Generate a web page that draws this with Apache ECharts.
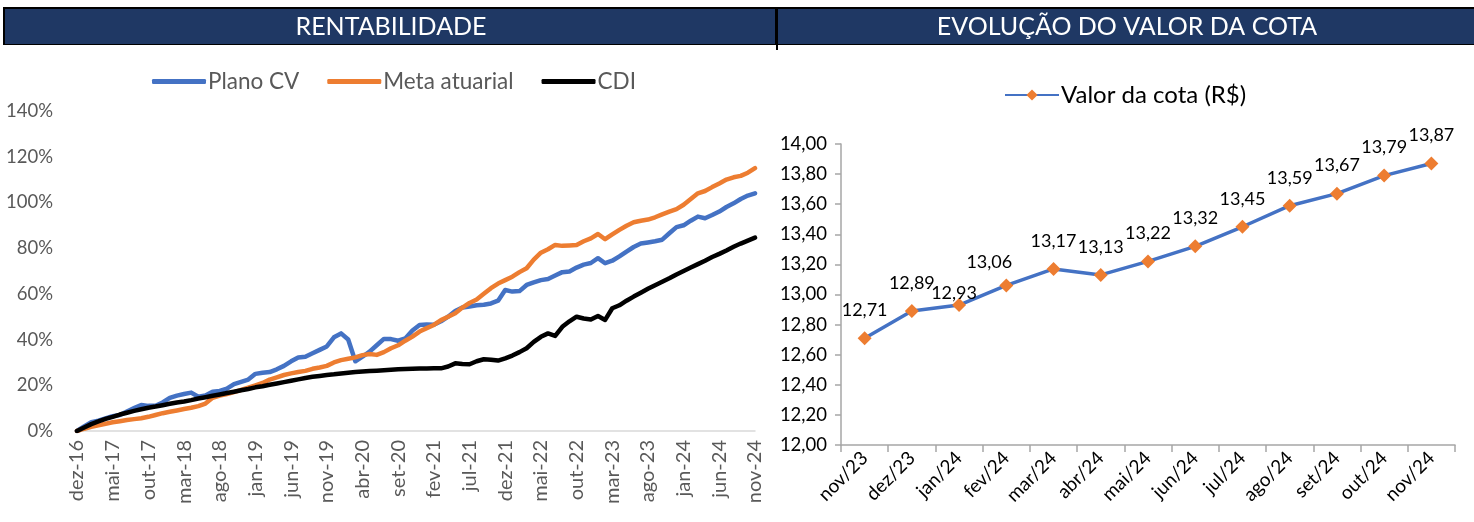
<!DOCTYPE html>
<html>
<head>
<meta charset="utf-8">
<script src="https://cdn.jsdelivr.net/npm/echarts@6/dist/echarts.min.js"></script>
<style>
html,body{margin:0;padding:0;background:#fff;}
#c{width:1474px;height:522px;}
</style>
</head>
<body>
<div id="c"></div>
<script>
// ---- Left chart: RENTABILIDADE ----
const monthsLeft = [
"dez-16",
"jan-17","fev-17","mar-17","abr-17","mai-17","jun-17","jul-17","ago-17","set-17","out-17","nov-17","dez-17",
"jan-18","fev-18","mar-18","abr-18","mai-18","jun-18","jul-18","ago-18","set-18","out-18","nov-18","dez-18",
"jan-19","fev-19","mar-19","abr-19","mai-19","jun-19","jul-19","ago-19","set-19","out-19","nov-19","dez-19",
"jan-20","fev-20","mar-20","abr-20","mai-20","jun-20","jul-20","ago-20","set-20","out-20","nov-20","dez-20",
"jan-21","fev-21","mar-21","abr-21","mai-21","jun-21","jul-21","ago-21","set-21","out-21","nov-21","dez-21",
"jan-22","fev-22","mar-22","abr-22","mai-22","jun-22","jul-22","ago-22","set-22","out-22","nov-22","dez-22",
"jan-23","fev-23","mar-23","abr-23","mai-23","jun-23","jul-23","ago-23","set-23","out-23","nov-23","dez-23",
"jan-24","fev-24","mar-24","abr-24","mai-24","jun-24","jul-24","ago-24","set-24","out-24","nov-24"
];
const planoCV = [
0,2,3.8,4.5,5.5,6.5,7,8.5,10,11.4,
11,11,12.5,14.5,15.5,16.2,16.8,15,15.5,17.2,
17.5,18.5,20.5,21.5,22.5,25,25.5,25.8,27,28.5,
30.5,32.2,32.5,34,35.5,37,41,42.7,40,30.5,
32.5,34.7,37.5,40.3,40.2,39.5,40.5,44,46.4,46.6,
46.5,48,50,52.5,54,54.5,55,55.2,55.8,57,
61.7,61,61.2,63.9,65,66,66.5,68,69.5,69.8,
71.5,72.8,73.5,75.6,73.4,74.5,76.4,78.5,80.5,82,
82.5,83,83.7,86.5,89.2,90,92,93.8,93.1,94.5,
96,98,99.6,101.5,103,104
];
const metaAtuarial = [
0,1,1.8,2.5,3.2,3.8,4.3,4.8,5.2,5.6,
6.2,7,7.8,8.4,9,9.6,10.2,10.9,12,14.5,
15.5,16.2,17,18,19,20,21,22.5,23.5,24.5,
25.2,25.8,26.3,27.2,27.8,28.5,30,31,31.6,32.2,
33.2,33.7,33.3,34.5,36.2,37.5,39.5,41.3,43.5,45,
46.4,48.5,50,51.5,54,56,57.5,60,62.5,64.5,
66,67.5,69.5,71.2,75,78,79.5,81.4,81,81.2,
81.4,83,84.3,86.2,83.9,86,88,89.8,91.3,92,
92.5,93.5,94.8,96,97.1,99,101.5,104,105,106.7,
108.3,110,111,111.6,113,115
];
const cdi = [
0,1.5,3,4.2,5.3,6.2,7.2,8,8.8,9.5,
10.2,10.7,11.3,11.9,12.5,12.9,13.5,14.2,14.8,15.4,
16,16.6,17.2,17.8,18.4,19.1,19.6,20.2,20.8,21.4,
22,22.6,23.2,23.7,24.1,24.5,24.8,25.2,25.5,25.8,
26,26.2,26.4,26.6,26.8,27,27.1,27.2,27.3,27.3,
27.4,27.4,28.2,29.6,29.3,29.2,30.5,31.4,31.2,30.8,
31.8,33,34.5,36.2,39,41.2,42.7,41.6,45.6,48,
50,49.2,48.8,50.3,48.6,53.7,55,57,58.8,60.5,
62.2,63.8,65.3,66.8,68.5,70,71.5,73,74.5,76.1,
77.5,79,80.6,82,83.3,84.6
];
const leftYTicks = {min:0, max:140, interval:20};

// ---- Right chart: EVOLUÇÃO DO VALOR DA COTA ----
const monthsRight = ["nov/23","dez/23","jan/24","fev/24","mar/24","abr/24","mai/24","jun/24","jul/24","ago/24","set/24","out/24","nov/24"];
const valorCota = [12.71,12.89,12.93,13.06,13.17,13.13,13.22,13.32,13.45,13.59,13.67,13.79,13.87];
const rightYTicks = {min:12, max:14, interval:0.2};

const FONT = 'Lato, "Liberation Sans", sans-serif';
const NAVY = '#1F3864';
const BLUE = '#4472C4', ORANGE = '#ED7D31';

// label nudges for two crowded labels (index -> [dx, dy])
const labelNudge = {2:[-5,16], 3:[-17,5]};

const chart = echarts.init(document.getElementById('c'), null, {renderer:'canvas'});
const comma = v => v.toFixed(2).replace('.', ',');

chart.setOption({
  animation:false,
  textStyle:{fontFamily:FONT},
  graphic:[
    {type:'rect', shape:{x:3,y:7,width:775,height:38}, style:{fill:'#000'}, silent:true},
    {type:'rect', shape:{x:5,y:9,width:770,height:35}, style:{fill:NAVY}, silent:true},
    {type:'rect', shape:{x:776,y:7,width:698,height:38}, style:{fill:'#000'}, silent:true},
    {type:'rect', shape:{x:778,y:9,width:696,height:35}, style:{fill:NAVY}, silent:true},
    {type:'rect', shape:{x:776,y:44,width:2,height:6}, style:{fill:'#000'}, silent:true},
    {type:'text', x:391, y:27, style:{text:'RENTABILIDADE', fill:'#fff', font:'25px '+FONT, align:'center', verticalAlign:'middle'}, silent:true},
    {type:'text', x:1127, y:27, style:{text:'EVOLUÇÃO DO VALOR DA COTA', fill:'#fff', font:'25px '+FONT, align:'center', verticalAlign:'middle'}, silent:true}
  ],
  legend:[
    {
      left:152, top:70, padding:0, itemWidth:54, itemHeight:5, itemGap:28,
      icon:'roundRect',
      textStyle:{color:'#595959', fontSize:22.5, fontFamily:FONT, padding:[0,0,0,-3]},
      data:['Plano CV','Meta atuarial','CDI']
    },
    {
      left:1004, top:83, padding:0, itemWidth:54, itemHeight:14, itemGap:10,
      textStyle:{color:'#000', fontSize:24, fontFamily:FONT, padding:[0,0,0,-3]},
      data:['Valor da cota (R$)']
    }
  ],
  grid:[
    {left:77, top:111, width:678, height:320, containLabel:false, outerBoundsMode:'none'},
    {left:841, top:144, width:614, height:301, containLabel:false, outerBoundsMode:'none'}
  ],
  xAxis:[
    {
      gridIndex:0, type:'category', data:monthsLeft, boundaryGap:false,
      axisLine:{show:true, lineStyle:{color:'#D9D9D9', width:1.5}},
      axisTick:{show:false},
      axisLabel:{interval:4, rotate:90, color:'#595959', fontSize:20, margin:9, fontFamily:FONT},
      splitLine:{show:false}
    },
    {
      gridIndex:1, type:'category', data:monthsRight, boundaryGap:true,
      axisLine:{show:true, lineStyle:{color:'#A6A6A6', width:1.5}},
      axisTick:{show:true, alignWithLabel:false, length:7, lineStyle:{color:'#A6A6A6', width:1.5}},
      axisLabel:{interval:0, rotate:45, color:'#000', fontSize:19, margin:10, fontFamily:FONT},
      splitLine:{show:false}
    }
  ],
  yAxis:[
    {
      gridIndex:0, type:'value', min:leftYTicks.min, max:leftYTicks.max, interval:leftYTicks.interval,
      axisLine:{show:false}, axisTick:{show:false}, splitLine:{show:false},
      axisLabel:{formatter:'{value}%', color:'#595959', fontSize:18.5, margin:24, fontFamily:FONT}
    },
    {
      gridIndex:1, type:'value', min:rightYTicks.min, max:rightYTicks.max, interval:rightYTicks.interval,
      axisLine:{show:true, lineStyle:{color:'#A6A6A6', width:1.5}},
      axisTick:{show:true, inside:false, length:6, lineStyle:{color:'#A6A6A6', width:1.5}},
      splitLine:{show:false},
      axisLabel:{formatter:v => comma(v), color:'#000', fontSize:18.5, margin:14, fontFamily:FONT}
    }
  ],
  series:[
    {name:'Plano CV', type:'line', xAxisIndex:0, yAxisIndex:0, data:planoCV, symbol:'none',
      lineStyle:{color:BLUE, width:4.5, cap:'round', join:'round'}, itemStyle:{color:BLUE}},
    {name:'Meta atuarial', type:'line', xAxisIndex:0, yAxisIndex:0, data:metaAtuarial, symbol:'none',
      lineStyle:{color:ORANGE, width:4.5, cap:'round', join:'round'}, itemStyle:{color:ORANGE}},
    {name:'CDI', type:'line', xAxisIndex:0, yAxisIndex:0, data:cdi, symbol:'none',
      lineStyle:{color:'#000', width:4.5, cap:'round', join:'round'}, itemStyle:{color:'#000'}},
    {name:'Valor da cota (R$)', type:'line', xAxisIndex:1, yAxisIndex:1,
      data:valorCota.map((v,i) => labelNudge[i] ? {value:v, label:{offset:labelNudge[i]}} : v),
      symbol:'diamond', symbolSize:14,
      lineStyle:{color:BLUE, width:3.5}, itemStyle:{color:ORANGE},
      label:{show:true, position:'top', distance:12, color:'#000', fontSize:18, fontFamily:FONT, formatter:p => comma(p.value)}
    }
  ]
});
</script>
</body>
</html>
